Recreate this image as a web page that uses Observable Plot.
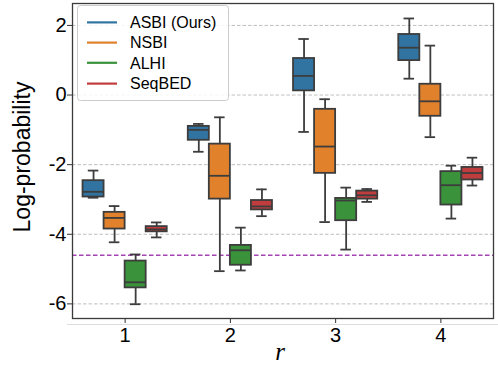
<!DOCTYPE html>
<html><head><meta charset="utf-8">
<script src="https://cdn.jsdelivr.net/npm/d3@7"></script>
<script src="https://cdn.jsdelivr.net/npm/@observablehq/plot@0.6"></script>
<style>
body{margin:0;background:#fff;}
#wrap{position:relative;width:498px;height:366px;}
</style>
</head><body><div id="wrap"></div>
<script>
// ---- data ----
const rValues = [1, 2, 3, 4];
const methods = ["ASBI (Ours)", "NSBI", "ALHI", "SeqBED"];
const colors = ["#3274a1", "#e1812c", "#3a923a", "#c03d3e"];
const yTicks = [2, 0, -2, -4, -6];
const baseline = -4.605;
// per r: [whiskerLow, q1, median, q3, whiskerHigh]
const asbi = [[-2.95,-2.93,-2.78,-2.46,-2.17],[-1.63,-1.30,-1.00,-0.90,-0.83],[-1.06,0.12,0.55,1.05,1.61],[0.47,0.99,1.36,1.74,2.20]];
const nsbi = [[-4.23,-3.85,-3.53,-3.37,-3.19],[-5.06,-2.99,-2.32,-1.41,-0.64],[-3.65,-2.25,-1.48,-0.41,-0.12],[-1.21,-0.61,-0.18,0.31,1.42]];
const alhi = [[-6.01,-5.54,-5.38,-4.77,-4.58],[-5.04,-4.89,-4.46,-4.32,-3.81],[-4.44,-3.61,-3.03,-2.97,-2.66],[-3.55,-3.16,-2.59,-2.20,-2.03]];
const seqbed = [[-4.09,-3.93,-3.86,-3.78,-3.66],[-3.48,-3.30,-3.20,-3.03,-2.71],[-3.07,-2.99,-2.88,-2.76,-2.70],[-2.60,-2.44,-2.24,-2.08,-1.80]];
const series = [asbi, nsbi, alhi, seqbed];

const groupWidth = 0.8, n = methods.length, bw = groupWidth / n;
const rows = [];
series.forEach((s, m) => s.forEach((v, k) => {
  const r = rValues[k];
  const left = r - groupWidth / 2 + m * bw;
  rows.push({r, method: methods[m], color: colors[m], lo: v[0], q1: v[1], med: v[2], q3: v[3], hi: v[4],
    x1: left, x2: left + bw, xc: left + bw / 2, c1: left + bw / 4, c2: left + 3 * bw / 4});
}));

const edge = "#3d3d3d";
const W = 498, H = 366, mL = 72, mR = 5, mT = 3, mB = 48;

const plot = Plot.plot({
  width: W, height: H,
  marginLeft: mL, marginRight: mR, marginTop: mT, marginBottom: mB,
  style: {fontFamily: "'Liberation Sans', Arial, sans-serif", fontSize: "20px", color: "#000", background: "#fff"},
  x: {domain: [0.5, 4.5], ticks: rValues, tickSize: 5, tickPadding: 4, label: null, tickFormat: d => String(d)},
  y: {domain: [-6.42, 2.63], ticks: yTicks, tickSize: 5, tickPadding: 1, label: null, tickFormat: d => String(d)},
  marks: [
    Plot.ruleY(yTicks, {stroke: "#b8b8b8", strokeWidth: 0.9, strokeDasharray: "3.5,2"}),
    Plot.ruleY([baseline], {stroke: "#a443b2", strokeWidth: 1.5, strokeDasharray: "4.5,2.5"}),
    Plot.ruleX(rows, {x: "xc", y1: "lo", y2: "q1", stroke: edge, strokeWidth: 1.8}),
    Plot.ruleX(rows, {x: "xc", y1: "q3", y2: "hi", stroke: edge, strokeWidth: 1.8}),
    Plot.ruleY(rows, {y: "lo", x1: "c1", x2: "c2", stroke: edge, strokeWidth: 1.8}),
    Plot.ruleY(rows, {y: "hi", x1: "c1", x2: "c2", stroke: edge, strokeWidth: 1.8}),
    Plot.rect(rows, {x1: "x1", x2: "x2", y1: "q1", y2: "q3", fill: "color", stroke: edge, strokeWidth: 1.8}),
    Plot.ruleY(rows, {y: "med", x1: "x1", x2: "x2", stroke: edge, strokeWidth: 1.8}),
    Plot.frame({stroke: "#3a3a3a", strokeWidth: 1.3})
  ]
});
document.getElementById("wrap").appendChild(plot);

const svg = d3.select(plot);
svg.selectAll("[aria-label$='tick'] path, [aria-label$='tick']").attr("stroke", "#333");
// faint line below axis area
svg.append("line").attr("x1", 67).attr("x2", W).attr("y1", 324.5).attr("y2", 324.5)
  .attr("stroke", "#dddddd").attr("stroke-width", 1);
// axis labels
svg.append("text").attr("transform", "translate(30,157) rotate(-90)")
  .attr("text-anchor", "middle").attr("font-size", 23)
  .attr("font-family", "'Liberation Sans', Arial, sans-serif").attr("fill", "#000").text("Log-probability");
svg.append("text").attr("x", 280).attr("y", 360)
  .attr("text-anchor", "middle").attr("font-size", 25).attr("font-style", "italic")
  .attr("font-family", "'Liberation Serif', 'DejaVu Serif', serif").attr("fill", "#000").text("r");
// legend
const lg = svg.append("g");
lg.append("rect").attr("x", 77.5).attr("y", 5.5).attr("width", 151).attr("height", 95).attr("rx", 3)
  .attr("fill", "rgba(255,255,255,0.85)").attr("stroke", "#cccccc").attr("stroke-width", 1);
const rowY = [22.4, 42.6, 62.8, 83.6];
methods.forEach((m, i) => {
  lg.append("line").attr("x1", 87).attr("x2", 117).attr("y1", rowY[i]).attr("y2", rowY[i])
    .attr("stroke", colors[i]).attr("stroke-width", 2.2);
  lg.append("text").attr("x", 130).attr("y", rowY[i] + 5.8).attr("font-size", 16)
    .attr("text-anchor", "start")
    .attr("font-family", "'Liberation Sans', Arial, sans-serif").attr("fill", "#000").text(m);
});
</script>
</body></html>
